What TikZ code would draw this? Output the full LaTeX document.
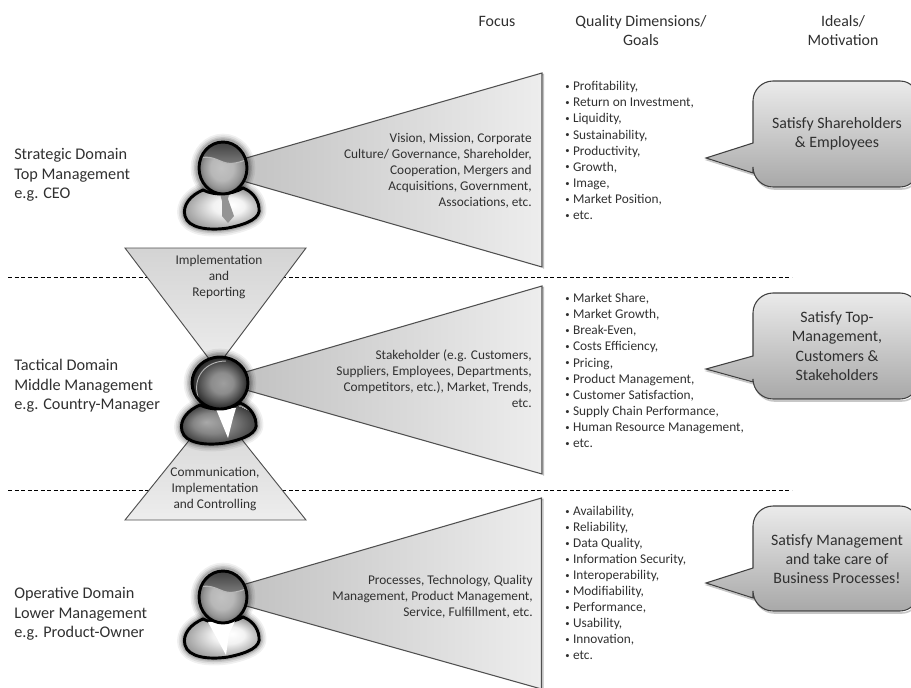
\documentclass[tikz,border=0pt]{standalone}
\usepackage{fontspec}
\setmainfont{Carlito}
\usetikzlibrary{shadings}
\definecolor{ink}{HTML}{303030}
\definecolor{edgeg}{HTML}{505050}
\pgfdeclareradialshading{headlight}{\pgfpoint{-2bp}{0bp}}{color(0bp)=(white!76!black);color(12bp)=(white!72!black);color(20bp)=(white!58!black);color(26bp)=(white!40!black)}
\pgfdeclareradialshading{headdark}{\pgfpoint{3bp}{0bp}}{color(0bp)=(white!62!black);color(10bp)=(white!55!black);color(18bp)=(white!34!black);color(25bp)=(white!14!black)}
\pgfdeclareradialshading{bodylight}{\pgfpoint{7bp}{6bp}}{color(0bp)=(white);color(10bp)=(white!95!black);color(22bp)=(white!68!black);color(30bp)=(white!50!black)}
\pgfdeclareradialshading{bodydark}{\pgfpoint{-8bp}{3bp}}{color(0bp)=(white!66!black);color(12bp)=(white!52!black);color(25bp)=(white!24!black)}
\newcommand{\bu}{\raisebox{.9pt}{\fontsize{6.5}{6.5}\selectfont•}\hspace{2.6pt}}
\tikzset{
  wedge/.style={draw=edgeg,line width=.8pt,left color=white!75!black,right color=white!93!black},
  wshadow/.style={draw=black!25,line width=1pt},
  funnel/.style={draw=edgeg,line width=.7pt},
  bubble/.style={draw=black!75,line width=.8pt,top color=white!92!black,bottom color=white!66!black},
  bshadow/.style={draw=black!22,line width=1.2pt},
  sep/.style={draw=black,line width=.5pt,dash pattern=on 3pt off 1.9pt},
  label/.style={text=ink,inner sep=0pt,font=\fontsize{12.2}{14.6}\selectfont,align=left},
  small/.style={text=ink,inner sep=0pt,font=\fontsize{10}{12.05}\selectfont},
  listtext/.style={small,align=left,anchor=west},
  focus/.style={small,align=right,anchor=east},
  bubbletext/.style={text=ink,inner sep=0pt,font=\fontsize{11.9}{14.4}\selectfont,align=center},
  head/.style={text=ink,inner sep=0pt,font=\fontsize{11.9}{14.6}\selectfont,align=center},
  outline/.style={draw=black,line width=2.2pt}
}
\def\bodypath{(-20,22) .. controls (-32,27) and (-41,37) .. (-38,48) .. controls (-35,60) and (-15,63) .. (5,60) .. controls (25,56) and (38,50) .. (36,40) .. controls (35,30) and (28,23) .. (20,20) .. controls (8,27) and (-8,28) .. (-20,22) -- cycle}
\newcommand{\glowshape}[2]{%
  \foreach \w/\o in {11pt/.06,8.5pt/.08,6pt/.11,4pt/.14}{
    \draw[black,line width=\w,opacity=\o,line join=round] \bodypath;
    \draw[black,line width=\w,opacity=\o] (0,0) ellipse [x radius=#1,y radius=#2];
  }}
\newcommand{\hairpart}{%
  \begin{scope}
    \clip (0,0) ellipse [x radius=24,y radius=26];
    \shade[top color=black!80,bottom color=black!50] (-30,-8) .. controls (-15,-14) and (-8,-9) .. (0,-6) .. controls (8,-3) and (16,-5) .. (30,-11) -- (30,-30) -- (-30,-30) -- cycle;
    \draw[white!72!black,line width=.8pt] (-30,-8) .. controls (-15,-14) and (-8,-9) .. (0,-6) .. controls (8,-3) and (16,-5) .. (30,-11);
  \end{scope}}
\newcommand{\personTie}[2]{%
  \begin{scope}[shift={(#1,#2)}]
    \glowshape{25}{27}
    \shade[shading=bodylight,outline] \bodypath;
    \fill[black!42] (-4,22) -- (7,22) -- (5,31) -- (11,48) -- (5,55) -- (-1,48) -- (-1,33) -- cycle;
    \shade[shading=headlight] (0,0) ellipse [x radius=24,y radius=26];
    \hairpart
    \draw[outline] (0,0) ellipse [x radius=24,y radius=26];
  \end{scope}}
\newcommand{\personDark}[2]{%
  \begin{scope}[shift={(#1,#2)}]
    \glowshape{29}{27}
    \shade[shading=bodydark,outline] \bodypath;
    \fill[white] (-4,26) -- (16,25) -- (13,35) -- (8,55) -- cycle;
    \shade[shading=headdark] (0,0) ellipse [x radius=28,y radius=26];
    \draw[white!70!black,line width=.7pt] (-22,14) .. controls (-28,-6) and (-14,-22) .. (6,-22);
    \draw[outline] (0,0) ellipse [x radius=28,y radius=26];
  \end{scope}}
\newcommand{\personShirt}[2]{%
  \begin{scope}[shift={(#1,#2)}]
    \glowshape{25}{27}
    \shade[shading=bodylight,outline] \bodypath;
    \fill[white] (-15,25) -- (12,24) -- (6,37) -- (3,58) -- cycle;
    \shade[shading=headlight] (0,0) ellipse [x radius=24,y radius=26];
    \hairpart
    \draw[outline] (0,0) ellipse [x radius=24,y radius=26];
  \end{scope}}
\newcommand{\bubblepath}[4]{(753,#4) -- (753,#2-20) .. controls (753,#2-9) and (762,#2) .. (773,#2) -- (900,#2) .. controls (911,#2) and (918,#2-9) .. (918,#2-20) -- (918,#1+20) .. controls (918,#1+9) and (911,#1) .. (900,#1) -- (773,#1) .. controls (762,#1) and (753,#1+9) .. (753,#1+20) -- (753,#3) -- (706,#3/2+#4/2) -- cycle}
\begin{document}
\begin{tikzpicture}[x=0.75pt,y=-0.75pt]
\useasboundingbox (0,0) rectangle (911,687);
\clip (0,0) rectangle (911,687);
% separators
\draw[sep] (8,277) -- (792,277);
\draw[sep] (8,490) -- (792,490);
% funnels
\draw[funnel,top color=white!83!black,bottom color=white!93!black] (125,248) -- (306,248) -- (216,368) -- cycle;
\draw[funnel,top color=white!83!black,bottom color=white!93!black] (216,407) -- (306,520) -- (125,520) -- cycle;
% wedges
\draw[wshadow] (215,168.5) -- (543.5,74.5) -- (543.5,268.5);
\draw[wedge] (542,73) -- (215,167) -- (215,173) -- (542,267) -- cycle;
\draw[wshadow] (225,379.5) -- (543.5,287.5) -- (543.5,475.5);
\draw[wedge] (542,286) -- (225,378) -- (225,384) -- (542,474) -- cycle;
\draw[wshadow] (225,591.5) -- (543,499.5) -- (543,690);
\draw[wedge] (541.5,498) -- (225,590) -- (225,600) -- (541.5,689) -- cycle;
% people
\personTie{223}{168}
\personDark{220}{383}
\personShirt{223}{597}
% bubbles
\begin{scope}[shift={(1.5,2)}]
\draw[bshadow] \bubblepath{81}{187}{143}{173};
\draw[bshadow] \bubblepath{293}{399}{356}{382};
\draw[bshadow] \bubblepath{506}{611}{568}{598};
\end{scope}
\draw[bubble] \bubblepath{81}{187}{143}{173};
\draw[bubble] \bubblepath{293}{399}{356}{382};
\draw[bubble] \bubblepath{506}{611}{568}{598};
% headers
\node[head] (hfocus) at (497,21) {Focus};
\node[head] (hquality) at (641,30.5) {Quality Dimensions/\\Goals};
\node[head] (hideals) at (843,30.5) {Ideals/\\Motivation};
% domains
\node[label,anchor=west] (d1) at (14,175) {Strategic Domain\\Top Management\\e.g. CEO};
\node[label,anchor=west] (d2) at (14,386) {Tactical Domain\\Middle Management\\e.g. Country-Manager};
\node[label,anchor=west] (d3) at (14,614) {Operative Domain\\Lower Management\\e.g. Product-Owner};
% funnel text
\node[small,align=center] (t1) at (219,277) {Implementation\\and\\Reporting};
\node[small,align=center] (t2) at (215,489) {Communication,\\Implementation\\and Controlling};
% focus text
\node[focus] (f1) at (532,171) {Vision, Mission, Corporate\\Culture/ Governance, Shareholder,\\Cooperation, Mergers and\\Acquisitions, Government,\\Associations, etc.};
\node[focus] (f2) at (532,379) {Stakeholder (e.g. Customers,\\Suppliers, Employees, Departments,\\Competitors, etc.), Market, Trends,\\etc.};
\node[focus] (f3) at (533,597) {Processes, Technology, Quality\\Management, Product Management,\\Service, Fulfillment, etc.};
% lists
\node[listtext] (l1) at (565,150.5) {\bu Profitability,\\\bu Return on Investment,\\\bu Liquidity,\\\bu Sustainability,\\\bu Productivity,\\\bu Growth,\\\bu Image,\\\bu Market Position,\\\bu etc.};
\node[listtext] (l2) at (565,370.5) {\bu Market Share,\\\bu Market Growth,\\\bu Break-Even,\\\bu Costs Efficiency,\\\bu Pricing,\\\bu Product Management,\\\bu Customer Satisfaction,\\\bu Supply Chain Performance,\\\bu Human Resource Management,\\\bu etc.};
\node[listtext] (l3) at (565,583) {\bu Availability,\\\bu Reliability,\\\bu Data Quality,\\\bu Information Security,\\\bu Interoperability,\\\bu Modifiability,\\\bu Performance,\\\bu Usability,\\\bu Innovation,\\\bu etc.};
% bubble text
\node[bubbletext] (b1) at (837,134) {Satisfy Shareholders\\\& Employees};
\node[bubbletext] (b2) at (837,346) {Satisfy Top-\\Management,\\Customers \&\\Stakeholders};
\node[bubbletext] (b3) at (837,559) {Satisfy Management\\and take care of\\Business Processes!};
\end{tikzpicture}
\end{document}
